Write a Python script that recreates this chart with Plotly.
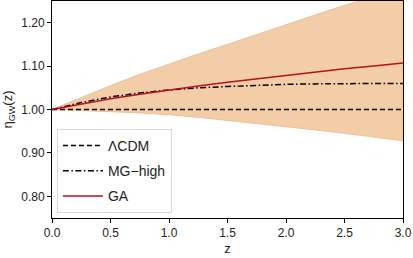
import plotly.graph_objects as go

z = [0.0, 0.25, 0.5, 0.75, 1.0, 1.25, 1.5, 1.75, 2.0, 2.25, 2.5, 2.75, 3.0]
lcdm = [1.0] * len(z)
mg_high = [1.0, 1.016, 1.029, 1.038, 1.045, 1.05, 1.053, 1.056, 1.058, 1.059, 1.06, 1.06, 1.06]
ga = [1.0, 1.013, 1.025, 1.035, 1.045, 1.054, 1.063, 1.071, 1.079, 1.087, 1.094, 1.1, 1.107]
band_upper = [1.0, 1.028, 1.055, 1.081, 1.105, 1.128, 1.15, 1.173, 1.195, 1.218, 1.24, 1.26, 1.28]
band_lower = [1.0, 0.998, 0.995, 0.992, 0.988, 0.982, 0.975, 0.968, 0.96, 0.953, 0.945, 0.937, 0.928]

fig = go.Figure()
fig.add_trace(go.Scatter(x=z, y=band_lower, mode="lines", line=dict(color="#f2bf92", width=1),
                         showlegend=False, hoverinfo="skip"))
fig.add_trace(go.Scatter(x=z, y=band_upper, mode="lines", line=dict(color="#f2bf92", width=1),
                         fill="tonexty", fillcolor="rgba(243,205,168,1)",
                         showlegend=False, hoverinfo="skip"))
fig.add_trace(go.Scatter(x=z, y=lcdm, mode="lines", name="ΛCDM", legendgroup="a",
                         line=dict(color="black", width=1.5, dash="5px,3px")))
fig.add_trace(go.Scatter(x=z, y=mg_high, mode="lines", name="MG−high", legendgroup="b",
                         line=dict(color="black", width=1.5, dash="6px,2.5px,1.5px,2.5px")))
fig.add_trace(go.Scatter(x=z, y=ga, mode="lines", name="GA", legendgroup="c",
                         line=dict(color="#b5121b", width=1.5)))

axis_common = dict(showline=True, linecolor="black", linewidth=1, mirror=True,
                   ticks="outside", ticklen=4, tickcolor="black", showgrid=False,
                   zeroline=False, tickfont=dict(size=12, color="#222"))
fig.update_xaxes(range=[0, 3], dtick=0.5, tickformat=".1f",
                 title=dict(text="z", font=dict(size=13, color="#222"), standoff=4), **axis_common)
fig.update_yaxes(range=[0.75, 1.25], tickvals=[0.8, 0.9, 1.0, 1.1, 1.2], tickformat=".2f",
                 title=dict(text="η<sub>GW</sub>(z)", font=dict(size=13, color="#222"), standoff=6),
                 **axis_common)

fig.update_layout(
    width=413, height=258,
    margin=dict(l=52, r=10, t=1, b=40),
    plot_bgcolor="white", paper_bgcolor="white",
    font=dict(family="Liberation Sans, Arial, sans-serif", color="#222"),
    legend=dict(x=0.014, y=0.023, xanchor="left", yanchor="bottom",
                bgcolor="rgba(255,255,255,0.85)", bordercolor="#d8d8d8", borderwidth=1,
                font=dict(size=14), traceorder="grouped", tracegroupgap=4, itemwidth=40),
)

fig.write_html("out.html", config={"displayModeBar": False},
               post_script="document.body.style.margin='0';")
